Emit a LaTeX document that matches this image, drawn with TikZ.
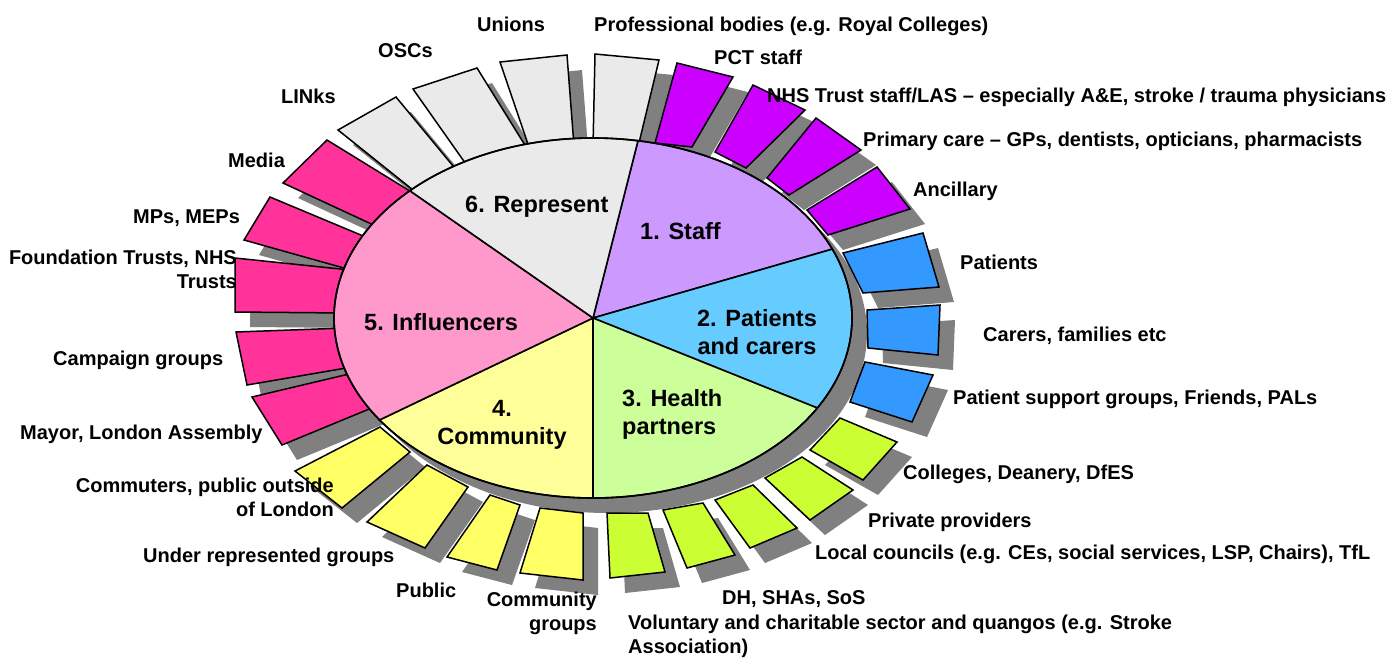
\documentclass[tikz,border=0pt]{standalone}
\usepackage{fontspec}
\setmainfont{Liberation Sans}
\definecolor{shd}{HTML}{808080}
\definecolor{repbar}{HTML}{EAEAEA}
\definecolor{staffbar}{HTML}{CC00FF}
\definecolor{patbar}{HTML}{3399FF}
\definecolor{hlthbar}{HTML}{CCFF33}
\definecolor{combar}{HTML}{FFFF66}
\definecolor{inflbar}{HTML}{FF3399}
\definecolor{staffpie}{HTML}{CC99FF}
\definecolor{patpie}{HTML}{66CCFF}
\definecolor{hlthpie}{HTML}{CCFF99}
\definecolor{compie}{HTML}{FFFF99}
\definecolor{inflpie}{HTML}{FF99CC}
\definecolor{reppie}{HTML}{EAEAEA}
\tikzset{
  barline/.style={draw=black, line width=1.5pt, line join=miter},
  pieline/.style={draw=black, line width=1.6pt, line join=round},
  lbl/.style={font=\bfseries\fontsize{20}{23.5}\selectfont, inner sep=0pt},
  pielbl/.style={font=\bfseries\fontsize{23.5}{28}\selectfont, inner sep=0pt}
}
\def\shadowbar#1#2{\fill[shd, shift={(15,15)}] #2 -- cycle;}
\def\realbar#1#2{\path[fill=#1, barline] #2 -- cycle;}
\def\bardata{%
\onebar{repbar}{(338,130)--(396,97)--(458,172)--(418,194)}%
\onebar{repbar}{(413,89)--(477,68)--(528,150)--(468,167)}%
\onebar{repbar}{(500,62)--(567,55)--(574,146)--(530,150)}%
\onebar{repbar}{(595,54)--(659,60)--(638,147)--(593,146)}%
\onebar{staffbar}{(677,63)--(733,77)--(692,147)--(655,143)}%
\onebar{staffbar}{(753,85)--(805,110)--(746,168)--(715,152)}%
\onebar{staffbar}{(816,118)--(861,150)--(789,195)--(767,178)}%
\onebar{staffbar}{(877,167)--(910,209)--(828,235)--(807,210)}%
\onebar{patbar}{(923,233)--(939,287)--(863,293)--(843,253)}%
\onebar{patbar}{(940,305)--(938,355)--(868,348)--(867,310)}%
\onebar{patbar}{(933,375)--(912,422)--(850,402)--(865,362)}%
\onebar{hlthbar}{(897,442)--(863,480)--(810,450)--(840,418)}%
\onebar{hlthbar}{(853,490)--(810,520)--(765,478)--(802,457)}%
\onebar{hlthbar}{(797,528)--(750,548)--(715,500)--(753,485)}%
\onebar{hlthbar}{(735,555)--(687,568)--(663,510)--(703,503)}%
\onebar{hlthbar}{(665,572)--(610,578)--(607,513)--(648,513)}%
\onebar{combar}{(583,580)--(520,573)--(540,508)--(583,513)}%
\onebar{combar}{(497,570)--(447,557)--(490,495)--(520,505)}%
\onebar{combar}{(425,548)--(367,522)--(427,465)--(468,487)}%
\onebar{combar}{(342,508)--(295,471)--(380,427)--(410,452)}%
\onebar{inflbar}{(282,445)--(252,397)--(349,374)--(374,407)}%
\onebar{inflbar}{(247,385)--(236,332)--(345,328)--(352,367)}%
\onebar{inflbar}{(235,312)--(235,258)--(350,270)--(345,313)}%
\onebar{inflbar}{(244,240)--(270,197)--(368,238)--(351,270)}%
\onebar{inflbar}{(283,183)--(327,140)--(418,196)--(380,228)}%
}
\newcommand{\piesector}[3]{\path[fill=#1, pieline] (593,318) -- plot[domain=#2:#3, samples=80, variable=\t] ({593+259*cos(\t)},{318-180*sin(\t)}) -- cycle;}
\begin{document}
\begin{tikzpicture}[x=1pt, y=-1pt]
\useasboundingbox (0,0) rectangle (1388,657);
\fill[white] (0,0) rectangle (1388,657);
% shadows
\let\onebar\shadowbar
\bardata
\fill[shd] (608,333) ellipse [x radius=259pt, y radius=180pt];
% bars
\let\onebar\realbar
\bardata
% pie
\piesector{staffpie}{22.5}{80}
\piesector{patpie}{-30}{22.5}
\piesector{hlthpie}{-90}{-30}
\piesector{compie}{-145.5}{-90}
\piesector{inflpie}{135}{214.5}
\piesector{reppie}{80}{135}
\draw[pieline] (593,318) ellipse [x radius=259pt, y radius=180pt];
% pie labels
\node[pielbl, anchor=base west] (l6) at (465,212) {6. Represent};
\node[pielbl, anchor=base west] (l1) at (640,239) {1. Staff};
\node[pielbl, anchor=north, align=center] (l2) at (757,309) {2. Patients\\and carers};
\node[pielbl, anchor=north west, align=left] (l3) at (622,389) {3. Health\\partners};
\node[pielbl, anchor=north, align=center] (l4) at (502,400) {4.\\Community};
\node[pielbl, anchor=base west] (l5) at (364,330) {5. Influencers};
% outer labels
\node[lbl, anchor=base west] (t1) at (477,31) {Unions};
\node[lbl, anchor=base west] (t2) at (594,31) {Professional bodies (e.g. Royal Colleges)};
\node[lbl, anchor=base west] (t3) at (378,57) {OSCs};
\node[lbl, anchor=base west] (t4) at (281,103) {LINks};
\node[lbl, anchor=base west] (t5) at (228,167) {Media};
\node[lbl, anchor=base west] (t6) at (133,223) {MPs, MEPs};
\node[lbl, anchor=north east, align=right] (t7) at (237,250) {Foundation Trusts, NHS\\Trusts};
\node[lbl, anchor=base west] (t8) at (53,365) {Campaign groups};
\node[lbl, anchor=base west] (t9) at (20,439) {Mayor, London Assembly};
\node[lbl, anchor=north east, align=right] (t10) at (334,478) {Commuters, public outside\\of London};
\node[lbl, anchor=base west] (t11) at (143,562) {Under represented groups};
\node[lbl, anchor=base west] (t12) at (396,597) {Public};
\node[lbl, anchor=north east, align=right] (t13) at (597,592) {Community\\groups};
\node[lbl, anchor=base west] (t14) at (722,604) {DH, SHAs, SoS};
\node[lbl, anchor=north west, align=left] (t15) at (628,615) {Voluntary and charitable sector and quangos (e.g. Stroke\\Association)};
\node[lbl, anchor=base west] (t16) at (815,559) {Local councils (e.g. CEs, social services, LSP, Chairs), TfL};
\node[lbl, anchor=base west] (t17) at (868,527) {Private providers};
\node[lbl, anchor=base west] (t18) at (903,479) {Colleges, Deanery, DfES};
\node[lbl, anchor=base west] (t19) at (953,404) {Patient support groups, Friends, PALs};
\node[lbl, anchor=base west] (t20) at (983,341) {Carers, families etc};
\node[lbl, anchor=base west] (t21) at (960,269) {Patients};
\node[lbl, anchor=base west] (t22) at (913,196) {Ancillary};
\node[lbl, anchor=base west] (t23) at (863,146) {Primary care – GPs, dentists, opticians, pharmacists};
\node[lbl, anchor=base west] (t24) at (767,102) {NHS Trust staff/LAS – especially A\&E, stroke / trauma physicians};
\node[lbl, anchor=base west] (t25) at (714,64) {PCT staff};
\end{tikzpicture}
\end{document}
